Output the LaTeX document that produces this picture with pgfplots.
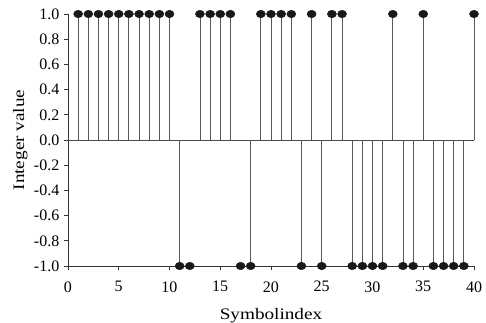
\documentclass[border=0pt]{standalone}
\usepackage{pgfplots}
\pgfplotsset{compat=1.18}
\usepackage{fontspec}
\setmainfont{Liberation Serif}
\usepackage{graphicx}
\begin{document}
\begin{tikzpicture}
\begin{axis}[
  scale only axis, width=304.5pt, height=189pt,
  xmin=0, xmax=40, ymin=-1, ymax=1,
  axis x line*=bottom, axis y line*=left,
  axis line style={black!80, line width=0.6pt, -},
  xtick={0,5,10,15,20,25,30,35,40},
  ytick={-1,-0.8,-0.6,-0.4,-0.2,0,0.2,0.4,0.6,0.8,1},
  yticklabel style={/pgf/number format/.cd, fixed, fixed zerofill, precision=1},
  xticklabel style={yshift=-5pt},
  tick align=outside, major tick length=3pt,
  tick style={black!80, line width=0.6pt},
  clip=false,
  font=\fontsize{12}{14}\selectfont,
  /pgf/number format/assume math mode=true,
  xlabel={\scalebox{1.2}[1]{Symbolindex}},
  ylabel={\scalebox{1.2}[1]{Integer value}},
  xlabel style={yshift=-5pt},
  ylabel style={yshift=-2pt},
]
\addplot[black!70, line width=0.7pt] coordinates {(0,0) (40,0)};
% stems (the reference shows none at 12 and 17)
\addplot[ycomb, black!65, line width=0.6pt, no marks] coordinates {
(1,1) (2,1) (3,1) (4,1) (5,1) (6,1) (7,1) (8,1) (9,1) (10,1)
(11,-1) (13,1) (14,1) (15,1) (16,1) (18,-1)
(19,1) (20,1) (21,1) (22,1) (23,-1) (24,1) (25,-1) (26,1) (27,1)
(28,-1) (29,-1) (30,-1) (31,-1) (32,1) (33,-1) (34,-1) (35,1)
(36,-1) (37,-1) (38,-1) (39,-1) (40,1)
};
% markers
\addplot[only marks, mark=*, mark size=2.8pt, mark options={fill=black!90, draw=black!90, xscale=1.2}] coordinates {
(1,1) (2,1) (3,1) (4,1) (5,1) (6,1) (7,1) (8,1) (9,1) (10,1)
(11,-1) (12,-1) (13,1) (14,1) (15,1) (16,1) (17,-1) (18,-1)
(19,1) (20,1) (21,1) (22,1) (23,-1) (24,1) (25,-1) (26,1) (27,1)
(28,-1) (29,-1) (30,-1) (31,-1) (32,1) (33,-1) (34,-1) (35,1)
(36,-1) (37,-1) (38,-1) (39,-1) (40,1)
};
\coordinate (sw) at (axis cs:0,-1);
\coordinate (ne) at (axis cs:40,1);
\end{axis}
\pgfresetboundingbox
\path ([xshift=-51pt,yshift=-42pt]sw) rectangle ([xshift=9pt,yshift=10.5pt]ne);
\end{tikzpicture}
\end{document}
